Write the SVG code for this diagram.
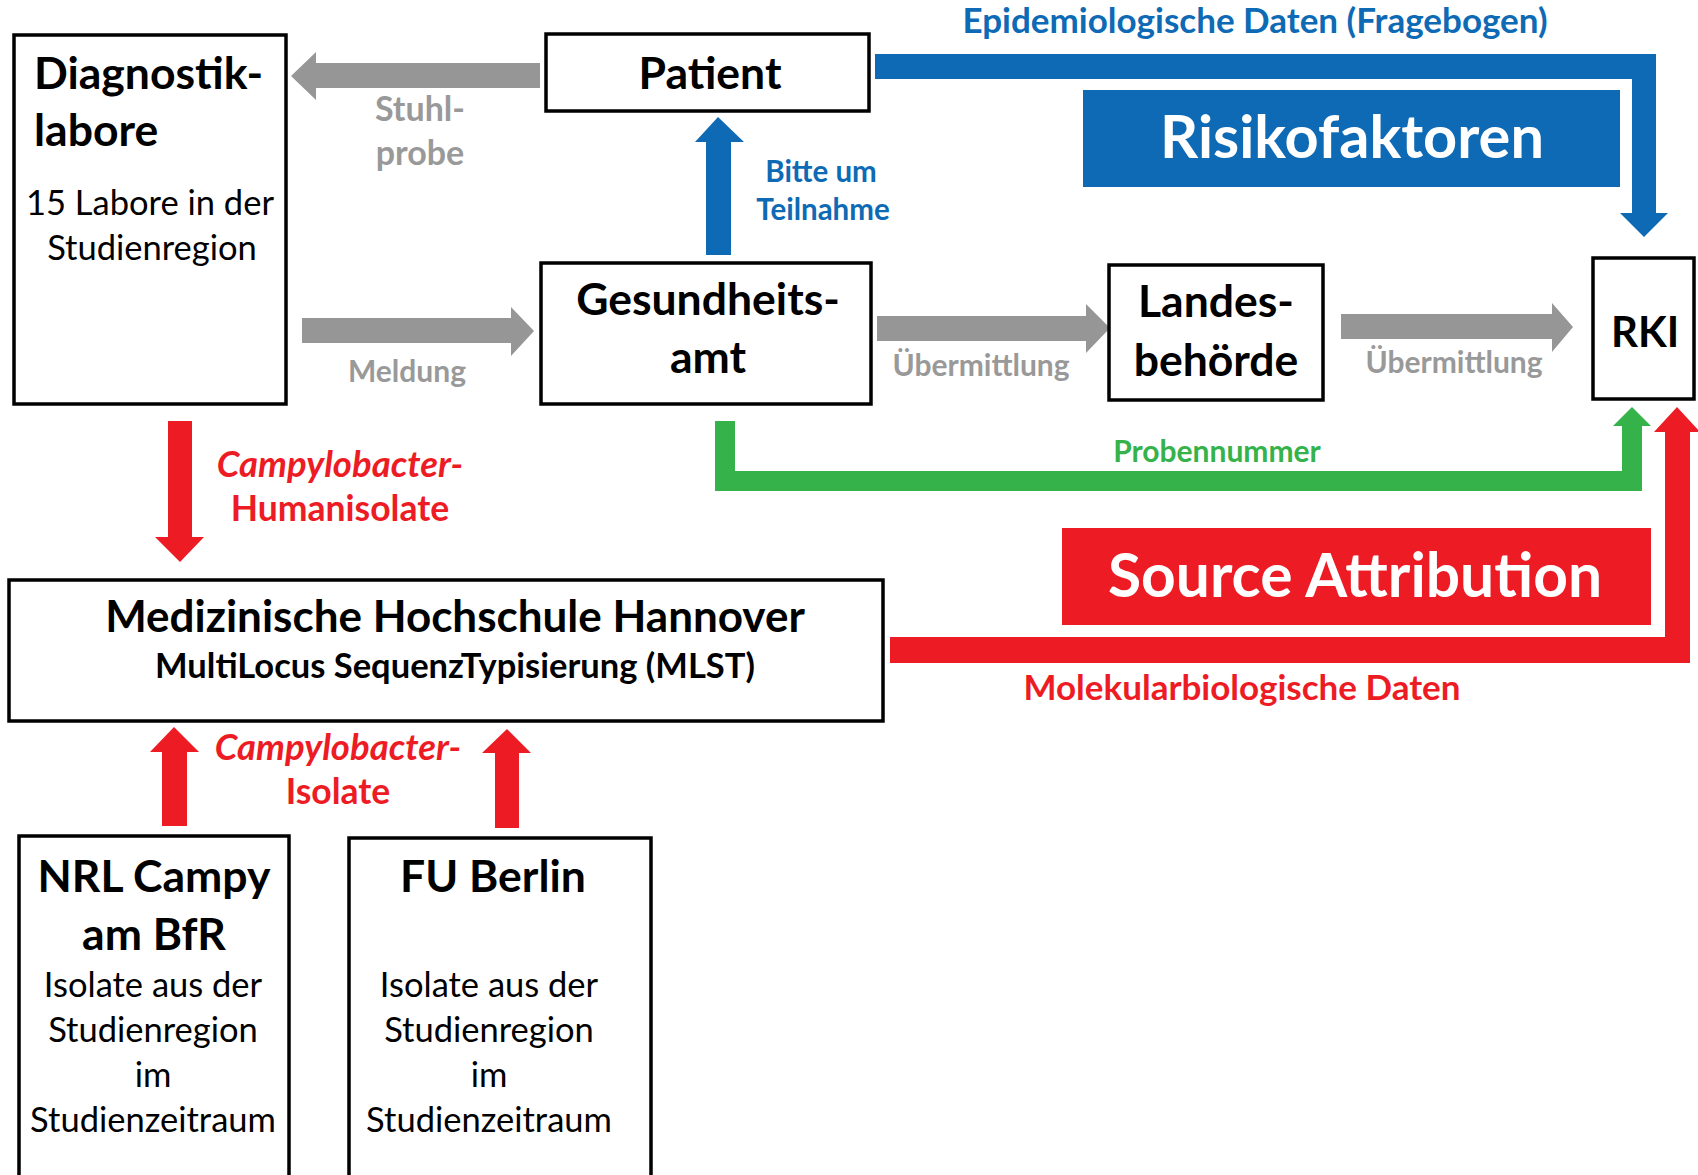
<svg xmlns="http://www.w3.org/2000/svg" width="1698" height="1175" viewBox="0 0 1698 1175">
<style>
text{font-family:Lato,"Open Sans","Liberation Sans",sans-serif;text-anchor:middle}
.box{fill:#fff;stroke:#000;stroke-width:3.5}
.t{font-weight:bold;fill:#000;font-size:44.5px}
.s{fill:#000;font-size:34.5px}
.gl{font-weight:bold;fill:#999;font-size:30px}
.gray{fill:#969696}
.blue{fill:#0E6AB4}
.red{fill:#ED1C24}
.green{fill:#35B24A}
.bl{font-weight:bold;fill:#0E6AB4}
.rl{font-weight:bold;fill:#ED1C24;font-size:35.5px}
.gr{font-weight:bold;fill:#35B24A}
.w{font-weight:bold;fill:#fff;font-size:60px}
</style>
<rect width="1698" height="1175" fill="#fff"/>
<g id="connectors">
<polygon class="gray" points="540,63 316,63 316,52 291,76 316,100 316,88 540,88"/>
<polygon class="gray" points="302,318 511,318 511,307 534,331 511,356 511,343 302,343"/>
<polygon class="gray" points="877,316 1086,316 1086,304 1110,328 1086,353 1086,341 877,341"/>
<polygon class="gray" points="1341,314 1552,314 1552,303 1573,327 1552,352 1552,339 1341,339"/>
<polygon class="blue" points="706,255 706,142 695,142 718,117 744,142 731,142 731,255"/>
<polygon class="blue" points="875,54 1656,54 1656,213 1668,213 1644,237 1620,213 1632,213 1632,79 875,79"/>
<polygon class="red" points="168,421 192,421 192,537 204,537 180,562 155,537 168,537"/>
<polygon class="green" points="715,421 735,421 735,471 1622,471 1622,426 1613,426 1632,407 1651,426 1642,426 1642,491 715,491"/>
<polygon class="red" points="890,637 1665,637 1665,432 1654,432 1677,407 1700,432 1690,432 1690,663 890,663"/>
<polygon class="red" points="162,826 162,752 150,752 174,727 199,752 187,752 187,826"/>
<polygon class="red" points="495,828 495,753 482,753 507,729 531,753 519,753 519,828"/>
<text class="gl" x="420" y="121" style="font-size:34px">Stuhl-</text>
<text class="gl" x="420" y="165" style="font-size:34px">probe</text>
<text class="bl" x="821" y="182" style="font-size:29.5px">Bitte um</text>
<text class="bl" x="823" y="220" style="font-size:29.5px">Teilnahme</text>
<text class="gl" x="407" y="382">Meldung</text>
<text class="gl" x="981" y="376">Übermittlung</text>
<text class="gl" x="1454" y="373">Übermittlung</text>
<text class="bl" x="1255" y="33" style="font-size:35px">Epidemiologische Daten (Fragebogen)</text>
<text class="gr" x="1217" y="462" style="font-size:30px">Probennummer</text>
<text class="rl" x="1242" y="700" style="font-size:35px">Molekularbiologische Daten</text>
<text class="rl" x="340" y="477" font-style="italic" style="font-size:36.5px">Campylobacter-</text>
<text class="rl" x="340" y="521">Humanisolate</text>
<text class="rl" x="338" y="760" font-style="italic" style="font-size:36.5px">Campylobacter-</text>
<text class="rl" x="338" y="804">Isolate</text>
</g>
<g id="risikofaktoren">
<rect class="blue" x="1083" y="90" width="537" height="97"/>
<text class="w" x="1352" y="158" style="font-size:59.5px">Risikofaktoren</text>
</g>
<g id="source-attribution">
<rect class="red" x="1062" y="528" width="589" height="97"/>
<text class="w" x="1355" y="597" style="font-size:60.5px">Source Attribution</text>
</g>
<g id="diagnostiklabore">
<rect class="box" x="14" y="35" width="272" height="369"/>
<text class="t" x="34" y="89" style="text-anchor:start">Diagnostik-</text>
<text class="t" x="34" y="146" style="text-anchor:start">labore</text>
<text class="s" x="150" y="215">15 Labore in der</text>
<text class="s" x="152" y="260">Studienregion</text>
</g>
<g id="patient">
<rect class="box" x="546" y="34" width="323" height="77"/>
<text class="t" x="710" y="89">Patient</text>
</g>
<g id="gesundheitsamt">
<rect class="box" x="541" y="263" width="330" height="141"/>
<text class="t" x="708" y="315">Gesundheits-</text>
<text class="t" x="708" y="373">amt</text>
</g>
<g id="landesbehoerde">
<rect class="box" x="1109" y="265" width="214" height="135"/>
<text class="t" x="1216" y="317">Landes-</text>
<text class="t" x="1216" y="376">behörde</text>
</g>
<g id="rki">
<rect class="box" x="1593" y="258" width="101" height="141"/>
<text class="t" x="1645" y="347" style="font-size:42px">RKI</text>
</g>
<g id="mhh">
<rect class="box" x="9" y="580" width="874" height="141"/>
<text class="t" x="455" y="632" style="font-size:44px">Medizinische Hochschule Hannover</text>
<text class="t" x="455" y="678" style="font-size:34.5px">MultiLocus SequenzTypisierung (MLST)</text>
</g>
<g id="nrl">
<rect class="box" x="19" y="836" width="270" height="360"/>
<text class="t" x="154" y="892">NRL Campy</text>
<text class="t" x="154" y="950">am BfR</text>
<text class="s" x="153" y="997">Isolate aus der</text>
<text class="s" x="153" y="1042">Studienregion</text>
<text class="s" x="153" y="1087">im</text>
<text class="s" x="153" y="1132">Studienzeitraum</text>
</g>
<g id="fu-berlin">
<rect class="box" x="349" y="838" width="302" height="360"/>
<text class="t" x="493" y="892">FU Berlin</text>
<text class="s" x="489" y="997">Isolate aus der</text>
<text class="s" x="489" y="1042">Studienregion</text>
<text class="s" x="489" y="1087">im</text>
<text class="s" x="489" y="1132">Studienzeitraum</text>
</g>
</svg>
